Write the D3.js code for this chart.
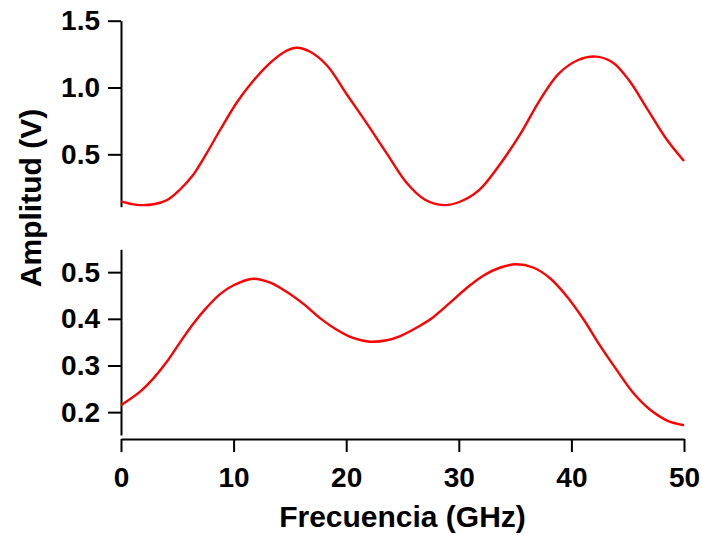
<!DOCTYPE html>
<html>
<head>
<meta charset="utf-8">
<script src="https://cdn.jsdelivr.net/npm/d3@7"></script>
<style>
  body { margin: 0; background: #fff; }
  svg { display: block; font-family: "Liberation Sans", Arial, sans-serif; font-weight: bold; }
</style>
</head>
<body>
<div id="chart"></div>
<script>
// top trace: frequency (GHz) and amplitude (V)
const topFreq = [0, 1.4, 2.9, 4.1, 5.2, 6.4, 7.6, 8.8, 10.3, 11.75, 13.2, 14.7, 15.6, 16.8, 18.3, 20.0, 21.8, 23.6, 25.4, 27.0, 28.7, 30.1, 31.8, 33.5, 35.5, 37.2, 38.9, 40.6, 42.2, 43.7, 45.1, 46.8, 48.5, 50.0];
const topAmp = [0.148, 0.122, 0.126, 0.158, 0.233, 0.345, 0.507, 0.682, 0.890, 1.050, 1.181, 1.275, 1.298, 1.268, 1.165, 0.955, 0.735, 0.507, 0.283, 0.160, 0.120, 0.145, 0.232, 0.407, 0.657, 0.906, 1.106, 1.206, 1.231, 1.186, 1.056, 0.831, 0.607, 0.450];

// bottom trace
const botFreq = [0, 1.7, 2.9, 4.1, 5.2, 6.4, 7.6, 8.8, 10.0, 11.75, 13.2, 14.7, 16.2, 17.7, 19.2, 20.6, 22.1, 23.6, 24.8, 26.55, 27.7, 29.2, 30.7, 32.2, 33.7, 35.1, 36.6, 38.1, 39.6, 41.1, 42.5, 44.0, 45.5, 47.0, 48.5, 50.0];
const botAmp = [0.215, 0.244, 0.273, 0.309, 0.348, 0.389, 0.424, 0.453, 0.472, 0.486, 0.478, 0.458, 0.432, 0.401, 0.376, 0.359, 0.351, 0.354, 0.363, 0.385, 0.403, 0.434, 0.466, 0.493, 0.510, 0.517, 0.510, 0.487, 0.448, 0.398, 0.344, 0.291, 0.241, 0.205, 0.182, 0.172];

const xTicks = [0, 10, 20, 30, 40, 50];
const topTicks = [0.5, 1.0, 1.5];
const botTicks = [0.2, 0.3, 0.4, 0.5];

const width = 702, height = 535;
const svg = d3.select('#chart').append('svg')
    .attr('width', width)
    .attr('height', height);

const x = d3.scaleLinear().domain([0, 50]).range([121, 684]);
const yTop = d3.scaleLinear().domain([0.108, 1.5]).range([206.7, 20.7]);
const yBot = d3.scaleLinear().domain([0.151, 0.549]).range([435, 249.3]);

function styleAxis(g) {
    g.select('.domain').attr('stroke', '#000').attr('stroke-width', 2);
    g.selectAll('.tick line').attr('stroke', '#000').attr('stroke-width', 2);
    g.selectAll('.tick text')
        .attr('fill', '#000')
        .style('font-size', '28px')
        .style('font-weight', 'bold')
        .style('font-family', '"Liberation Sans", Arial, sans-serif');
}

// y axes
svg.append('g')
    .attr('transform', 'translate(121,0)')
    .call(d3.axisLeft(yTop).tickValues(topTicks).tickFormat(d3.format('.1f'))
        .tickSize(13).tickSizeOuter(0).tickPadding(8))
    .call(styleAxis);

svg.append('g')
    .attr('transform', 'translate(121,0)')
    .call(d3.axisLeft(yBot).tickValues(botTicks).tickFormat(d3.format('.1f'))
        .tickSize(13).tickSizeOuter(0).tickPadding(8))
    .call(styleAxis);

// x axis
svg.append('g')
    .attr('transform', 'translate(0,439)')
    .call(d3.axisBottom(x).tickValues(xTicks).tickFormat(d3.format('d'))
        .tickSize(13).tickSizeOuter(0).tickPadding(15))
    .call(styleAxis);

// traces
const lineTop = d3.line()
    .x((d, i) => x(topFreq[i]))
    .y(d => yTop(d))
    .curve(d3.curveCatmullRom.alpha(0.5));

const lineBot = d3.line()
    .x((d, i) => x(botFreq[i]))
    .y(d => yBot(d))
    .curve(d3.curveCatmullRom.alpha(0.5));

svg.append('path')
    .attr('d', lineTop(topAmp))
    .attr('fill', 'none')
    .attr('stroke', '#ff0000')
    .attr('stroke-width', 2.4);

svg.append('path')
    .attr('d', lineBot(botAmp))
    .attr('fill', 'none')
    .attr('stroke', '#ff0000')
    .attr('stroke-width', 2.4);

// titles
svg.append('text')
    .attr('x', 402.5)
    .attr('y', 527)
    .attr('text-anchor', 'middle')
    .style('font-size', '30px')
    .text('Frecuencia (GHz)');

svg.append('text')
    .attr('transform', 'translate(41,198) rotate(-90)')
    .attr('text-anchor', 'middle')
    .style('font-size', '30px')
    .text('Amplitud (V)');
</script>
</body>
</html>
